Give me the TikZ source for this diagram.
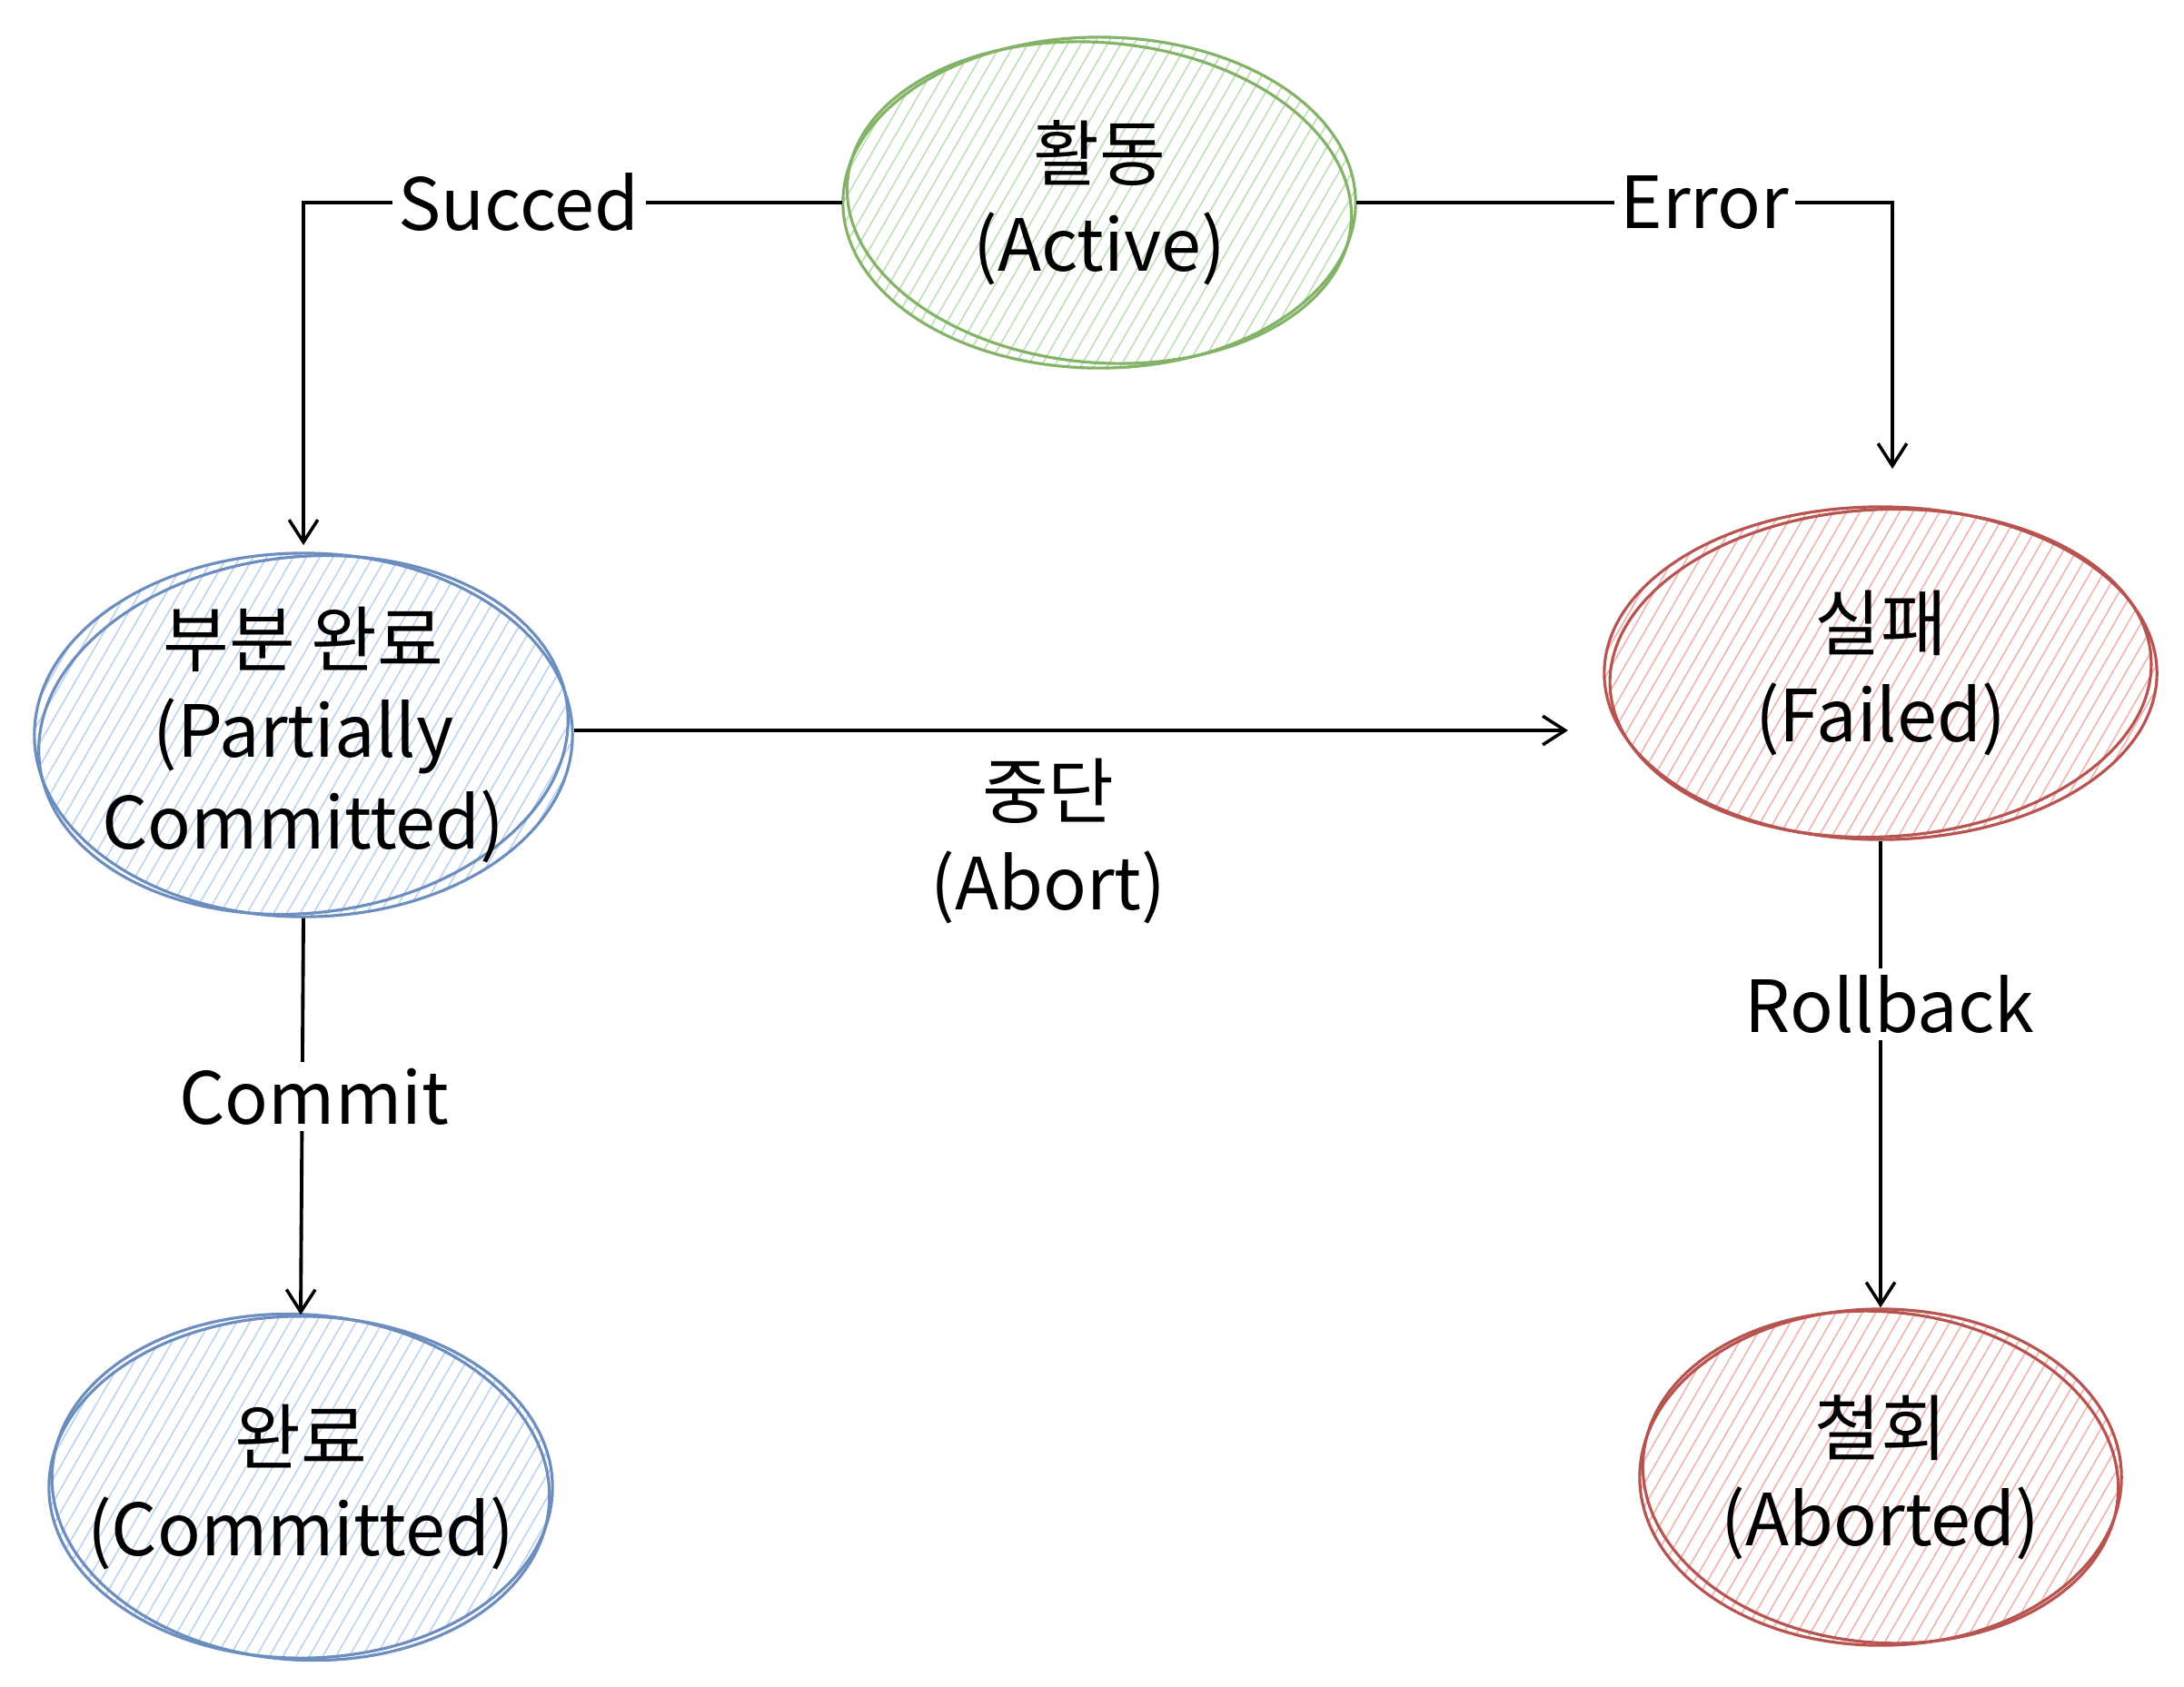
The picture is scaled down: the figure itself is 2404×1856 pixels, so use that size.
\documentclass[tikz,border=0pt]{standalone}
\usepackage{fontspec}
\setmainfont{Noto Sans CJK KR}
\usetikzlibrary{arrows.meta,patterns.meta,shapes.geometric,calc}
\definecolor{gS}{HTML}{82B366}
\definecolor{gH}{HTML}{BFDEB4}
\definecolor{bS}{HTML}{6C8EBF}
\definecolor{bH}{HTML}{BCD2F2}
\definecolor{rS}{HTML}{B85450}
\definecolor{rH}{HTML}{F2B2AF}
\tikzset{
  state/.style={ellipse, inner sep=0pt, line width=0.9pt,
    pattern={Lines[angle=60,distance=3.6pt,line width=0.45pt]}},
  txt/.style={font=\fontsize{22.5}{28.5}\selectfont, align=center},
  green/.style={state, draw=gS, pattern color=gH},
  blue/.style={state, draw=bS, pattern color=bH},
  red/.style={state, draw=rS, pattern color=rH},
  conn/.style={line width=1.1pt, -{Straight Barb[length=7pt,width=9pt,line width=1pt]}},
  lbl/.style={txt, fill=white, inner sep=2pt},
  sk/.style={line width=0.9pt}
}
\begin{document}
\begin{tikzpicture}[x=0.01cm,y=-0.01cm]
\useasboundingbox (0,0) rectangle (2404,1856);
\fill[white] (0,0) rectangle (2404,1856);

\node[green, minimum width=5.64cm, minimum height=3.64cm] (act) at (1210,223) {};
\node[blue, minimum width=5.92cm, minimum height=4.0cm] (part) at (334,809) {};
\node[blue, minimum width=5.54cm, minimum height=3.76cm] (comm) at (331,1637) {};
\node[red, minimum width=6.08cm, minimum height=3.66cm] (fail) at (2070,741) {};
\node[red, minimum width=5.30cm, minimum height=3.70cm] (abrt) at (2070,1626) {};

% sketchy second strokes
\draw[sk, gS, rotate around={-5:(act.center)}] (act.center) ellipse [x radius=2.78cm, y radius=1.76cm];
\draw[sk, bS, rotate around={6:(part.center)}] (part.center) ellipse [x radius=2.92cm, y radius=1.96cm];
\draw[sk, bS, rotate around={-4:(comm.center)}] (comm.center) ellipse [x radius=2.74cm, y radius=1.90cm];
\draw[sk, rS, rotate around={3:(fail.center)}] (fail.center) ellipse [x radius=2.98cm, y radius=1.80cm];
\draw[sk, rS, rotate around={-5:(abrt.center)}] (abrt.center) ellipse [x radius=2.62cm, y radius=1.82cm];

\node[txt] (actT) at (act.center) {활동\\(Active)};
\node[txt] (partT) at (part.center) {부분 완료\\(Partially\\Committed)};
\node[txt] (commT) at (comm.center) {완료\\(Committed)};
\node[txt] (failT) at (fail.center) {실패\\(Failed)};
\node[txt] (abrtT) at (abrt.center) {철회\\(Aborted)};

\coordinate (errEnd) at (2083,516);
\coordinate (abEnd) at (1726,804);
\coordinate (sucEnd) at (334,600);

\draw[conn] (act.west) -| (sucEnd) node[lbl, pos=0.3] {Succed};
\draw[conn] (act.east) -| (errEnd) node[lbl, pos=0.325] {Error};
\draw[conn] (part.east |- abEnd) -- (abEnd)
  node[txt, midway, yshift=-1.22cm, xshift=-0.25cm] (abl) {중단\\(Abort)};
\draw[conn] (part.south) -- (comm.north) node[lbl, pos=0.45, xshift=0.13cm] {Commit};
\draw[conn] (fail.south) -- (abrt.north) node[lbl, pos=0.35, xshift=0.1cm] {Rollback};
\end{tikzpicture}
\end{document}
